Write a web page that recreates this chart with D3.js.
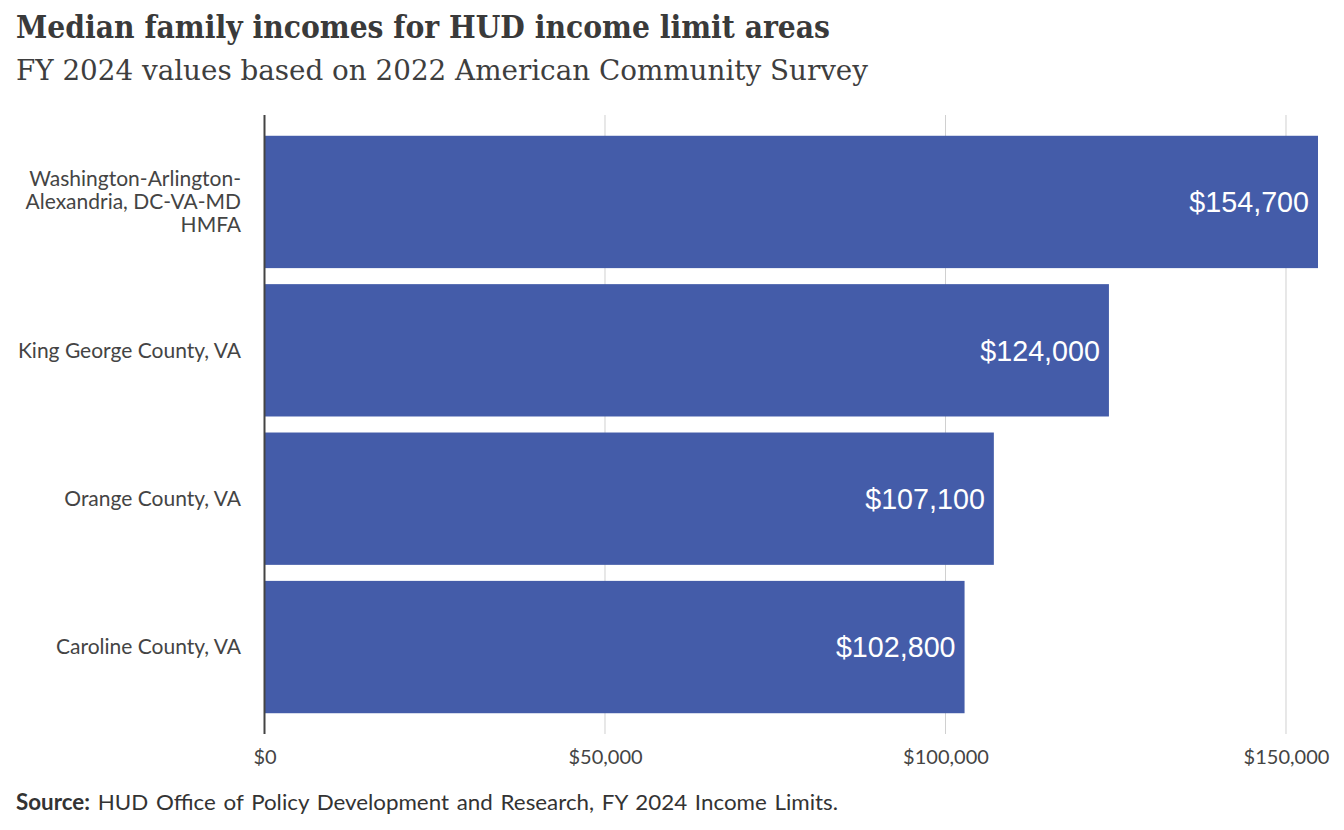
<!DOCTYPE html>
<html>
<head>
<meta charset="utf-8">
<script src="https://cdn.jsdelivr.net/npm/d3@7"></script>
<style>
  html, body { margin: 0; padding: 0; background: #fff; }
  svg { display: block; }
</style>
</head>
<body>
<svg id="chart" width="1344" height="830"></svg>
<script>
const categories = [
  "Washington-Arlington-Alexandria, DC-VA-MD HMFA",
  "King George County, VA",
  "Orange County, VA",
  "Caroline County, VA"
];
const categoryLines = [
  ["Washington-Arlington-", "Alexandria, DC-VA-MD", "HMFA"],
  ["King George County, VA"],
  ["Orange County, VA"],
  ["Caroline County, VA"]
];
const values = [154700, 124000, 107100, 102800];
const tickValues = [0, 50000, 100000, 150000];
const titleText = "Median family incomes for HUD income limit areas";
const subtitleText = "FY 2024 values based on 2022 American Community Survey";
const sourceLabel = "Source:";
const sourceText = " HUD Office of Policy Development and Research, FY 2024 Income Limits.";

(function () {
const svg = d3.select("#chart");
const plotLeft = 264.5, plotRight = 1318, plotTop = 115, plotBottom = 734;

const x = d3.scaleLinear().domain([0, d3.max(values)]).range([plotLeft, plotRight]);
const y = d3.scaleBand().domain(categories).range([plotTop, plotBottom]).paddingInner(0.108).paddingOuter(0.14);

const fmt = d => "$" + d3.format(",")(d);

// Title & subtitle
const serif = "'DejaVu Serif Condensed', 'DejaVu Serif', 'Liberation Serif', serif";
function fitText(sel, target) {
  const w = sel.node().getComputedTextLength();
  if (Math.abs(w - target) > 2) sel.attr("textLength", target).attr("lengthAdjust", "spacingAndGlyphs");
}
const title = svg.append("text").attr("x", 16).attr("y", 38)
  .attr("font-family", serif).attr("font-weight", "bold").attr("font-size", 31)
  .attr("fill", "#3a3a3a").text(titleText);
fitText(title, 814);
const sub = svg.append("text").attr("x", 16).attr("y", 80)
  .attr("font-family", serif).attr("font-size", 27)
  .attr("fill", "#3e3e3e").text(subtitleText);
fitText(sub, 852);

// Gridlines
svg.append("g").selectAll("line").data(tickValues.filter(d => d > 0)).join("line")
  .attr("x1", d => x(d)).attr("x2", d => x(d))
  .attr("y1", plotTop).attr("y2", plotBottom)
  .attr("stroke", "#d0d0d0").attr("stroke-width", 1);

// Bars
svg.append("g").selectAll("rect").data(values).join("rect")
  .attr("x", x(0))
  .attr("y", (d, i) => y(categories[i]))
  .attr("width", d => x(d) - x(0))
  .attr("height", y.bandwidth())
  .attr("fill", "#445ca9");

// Bar labels
svg.append("g").selectAll("text").data(values).join("text")
  .attr("x", d => x(d) - 9)
  .attr("y", (d, i) => y(categories[i]) + y.bandwidth() / 2)
  .attr("dy", "0.36em")
  .attr("text-anchor", "end")
  .attr("font-family", "'Liberation Sans', Arial, sans-serif")
  .attr("font-size", 28.7)
  .attr("fill", "#fff")
  .text(fmt);

// Y axis line
svg.append("line").attr("x1", plotLeft).attr("x2", plotLeft).attr("y1", plotTop).attr("y2", plotBottom)
  .attr("stroke", "#444").attr("stroke-width", 2);

// Category labels
const lh = 23;
const cat = svg.append("g").selectAll("text").data(categories).join("text")
  .attr("text-anchor", "end")
  .attr("font-family", "Lato, sans-serif")
  .attr("font-size", 21)
  .attr("fill", "#444");
cat.each(function(c, i) {
  const lines = categoryLines[i];
  const cy = y(c) + y.bandwidth() / 2;
  const startY = cy - (lines.length - 1) * lh / 2;
  d3.select(this).selectAll("tspan").data(lines).join("tspan")
    .attr("x", 241).attr("y", (d, j) => startY + j * lh).attr("dy", "0.35em").text(d => d);
});

// X axis tick labels
const xAxis = d3.axisBottom(x).tickValues(tickValues).tickFormat(fmt).tickSize(0).tickPadding(0);
const gx = svg.append("g").attr("transform", `translate(0,${plotBottom})`).call(xAxis);
gx.select(".domain").remove();
gx.selectAll("text").attr("font-family", "Lato, sans-serif").attr("font-size", 20)
  .attr("fill", "#444").attr("y", 23).attr("dy", "0.35em");

// Source
const src = svg.append("text").attr("x", 16).attr("y", 810)
  .attr("font-family", "Lato, sans-serif").attr("font-size", 22).attr("fill", "#333")
  .attr("word-spacing", 2);
src.append("tspan").attr("font-weight", "bold").text(sourceLabel);
src.append("tspan").text(sourceText);
fitText(src, 822);
})();
</script>
</body>
</html>
